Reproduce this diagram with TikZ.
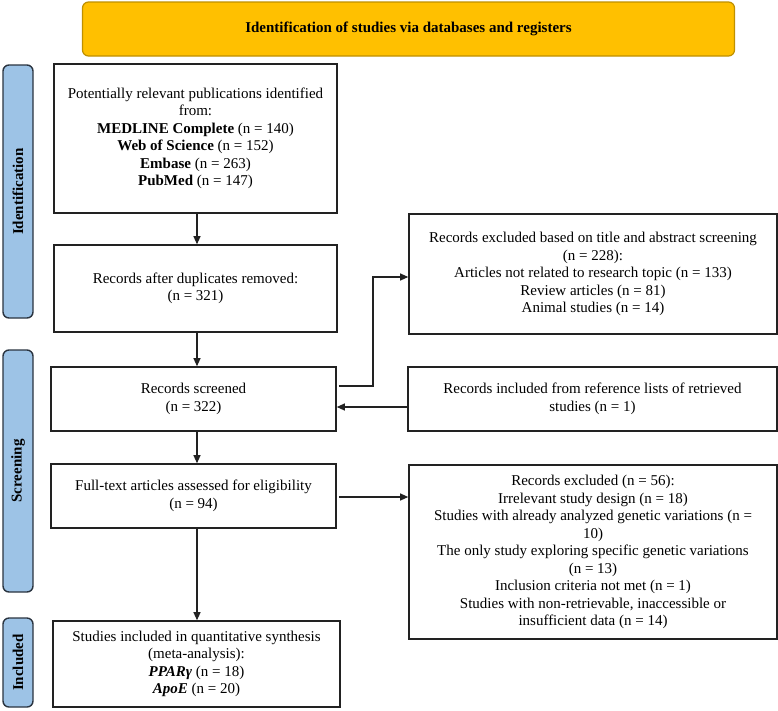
\documentclass[tikz,border=0pt]{standalone}
\usepackage{fontspec}
\setmainfont{Liberation Serif}
\usetikzlibrary{arrows.meta}
\definecolor{gold}{HTML}{FFC000}
\definecolor{golddark}{HTML}{BF9000}
\definecolor{sideblue}{HTML}{9DC3E6}
\definecolor{boxline}{HTML}{222222}
\definecolor{sideline}{HTML}{2A3440}
\tikzset{
  every node/.style={font=\fontsize{15}{17.5}\selectfont},
  flowbox/.style={draw=boxline, line width=1.6pt, fill=white, inner sep=0pt, align=center},
  sidelab/.style={draw=sideline, line width=1.4pt, fill=sideblue, rounded corners=6pt, inner sep=0pt, rotate=90, font=\fontsize{15}{17.5}\selectfont\bfseries},
  banner/.style={draw=golddark, line width=1.2pt, fill=gold, rounded corners=6pt, inner sep=0pt, font=\fontsize{15}{17.5}\selectfont\bfseries},
  arr/.style={draw=boxline, line width=1.1pt, -{Triangle[length=8pt,width=7pt]}},
}
\begin{document}
\begin{tikzpicture}[x=1pt,y=-1pt]
\useasboundingbox (0,0) rectangle (778,710);
\node[banner, minimum width=652, minimum height=54] (ban) at (408.5,29) {Identification of studies via databases and registers};
\node[sidelab, minimum width=253, minimum height=30] (idl) at (18,191.5) {Identification};
\node[sidelab, minimum width=242, minimum height=30] (scl) at (18,471) {Screening};
\node[sidelab, minimum width=89, minimum height=30] (inl) at (18,662.5) {Included};

\node[flowbox, minimum width=283, minimum height=149] (b1) at (195.5,138.5) {Potentially relevant publications identified\\from:\\\textbf{MEDLINE Complete} (n = 140)\\\textbf{Web of Science} (n = 152)\\\textbf{Embase} (n = 263)\\\textbf{PubMed} (n = 147)};
\node[flowbox, minimum width=283, minimum height=87] (b2) at (195.5,288.5) {Records after duplicates removed:\\(n = 321)};
\node[flowbox, minimum width=285, minimum height=64] (b3) at (193.5,399) {Records screened\\(n = 322)};
\node[flowbox, minimum width=285, minimum height=64] (b4) at (193.5,496) {Full-text articles assessed for eligibility\\(n = 94)};
\node[flowbox, minimum width=287, minimum height=86] (b5) at (196.5,664) {Studies included in quantitative synthesis\\(meta-analysis):\\\textbf{\textit{PPARγ}} (n = 18)\\\textbf{\textit{ApoE}} (n = 20)};

\node[flowbox, minimum width=368, minimum height=120] (r1) at (593,274) {Records excluded based on title and abstract screening\\(n = 228):\\Articles not related to research topic (n = 133)\\Review articles (n = 81)\\Animal studies (n = 14)};
\node[flowbox, minimum width=369, minimum height=64] (r2) at (592.5,399) {Records included from reference lists of retrieved\\studies (n = 1)};
\node[flowbox, minimum width=368, minimum height=174] (r3) at (593,552) {Records excluded (n = 56):\\Irrelevant study design (n = 18)\\Studies with already analyzed genetic variations (n =\\10)\\The only study exploring specific genetic variations\\(n = 13)\\Inclusion criteria not met (n = 1)\\Studies with non-retrievable, inaccessible or\\insufficient data (n = 14)};

\coordinate (ax) at (197,0);
\coordinate (k1) at (373,386);
\coordinate (k2) at (373,277);
\coordinate (y2) at (0,407);
\coordinate (y3) at (0,497);

\draw[arr] (b1.south -| ax) -- (b2.north -| ax);
\draw[arr] (b2.south -| ax) -- (b3.north -| ax);
\draw[arr] (b3.south -| ax) -- (b4.north -| ax);
\draw[arr] (b4.south -| ax) -- (b5.north -| ax);
\draw[arr] ([xshift=2pt]b3.east |- k1) -- (k1) -- (k2) -- (r1.west |- k2);
\draw[arr] (r2.west |- y2) -- (b3.east |- y2);
\draw[arr] ([xshift=2pt]b4.east |- y3) -- (r3.west |- y3);
\end{tikzpicture}
\end{document}
